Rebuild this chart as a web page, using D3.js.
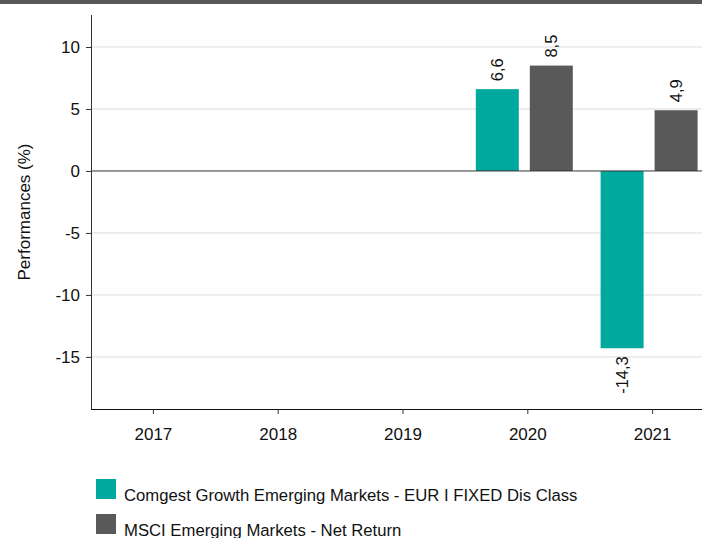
<!DOCTYPE html>
<html>
<head>
<meta charset="utf-8">
<script src="https://cdn.jsdelivr.net/npm/d3@7"></script>
<style>
  body { margin: 0; background: #fff; }
  text { font-family: "Liberation Sans", Arial, sans-serif; }
</style>
</head>
<body>
<div id="chart"></div>
<script>
// data
var years = ["2017", "2018", "2019", "2020", "2021"];
var fundValues = [null, null, null, 6.6, -14.3];
var indexValues = [null, null, null, 8.5, 4.9];
var seriesNames = ["Comgest Growth Emerging Markets - EUR I FIXED Dis Class", "MSCI Emerging Markets - Net Return"];
var yTicks = [-15, -10, -5, 0, 5, 10];

var width = 702, height = 538;
var colors = ["#00a99d", "#595959"];
var font = "Liberation Sans, Arial, sans-serif";

var svg = d3.select("#chart").append("svg")
    .attr("width", width)
    .attr("height", height);

// top band
svg.append("rect")
    .attr("x", 0).attr("y", 0)
    .attr("width", width).attr("height", 4)
    .attr("fill", "#585858");

var plot = {l: 91, t: 15, b: 409};

var x = d3.scaleBand().domain(years).range([plot.l, plot.l + 5 * 124.8]);
var y = d3.scaleLinear().domain([-19.2, 12.58]).range([plot.b, plot.t]);

// grid
svg.append("g")
    .selectAll("line")
    .data(yTicks.filter(function (d) { return d !== 0; }))
    .enter().append("line")
    .attr("x1", plot.l).attr("x2", width)
    .attr("y1", function (d) { return y(d); })
    .attr("y2", function (d) { return y(d); })
    .attr("stroke", "#dcdcdc")
    .attr("stroke-width", 1);

// bars
var series = [fundValues, indexValues];
var offsets = [-52, 2];
var barW = 43;

series.forEach(function (vals, i) {
    var pts = years.map(function (yr, j) { return {year: yr, value: vals[j]}; })
        .filter(function (d) { return d.value !== null; });

    svg.append("g")
        .selectAll("rect")
        .data(pts)
        .enter().append("rect")
        .attr("x", function (d) { return x(d.year) + x.bandwidth() / 2 + offsets[i]; })
        .attr("y", function (d) { return y(Math.max(0, d.value)); })
        .attr("width", barW)
        .attr("height", function (d) { return Math.abs(y(d.value) - y(0)); })
        .attr("fill", colors[i]);

    // value labels
    svg.append("g")
        .selectAll("text")
        .data(pts)
        .enter().append("text")
        .attr("transform", function (d) {
            var cx = x(d.year) + x.bandwidth() / 2 + offsets[i] + barW / 2;
            var cy = d.value >= 0 ? y(d.value) - 8 : y(d.value) + 8;
            return "translate(" + (cx + 6) + "," + cy + ") rotate(-90)";
        })
        .attr("text-anchor", function (d) { return d.value >= 0 ? "start" : "end"; })
        .attr("font-size", "16.5px")
        .attr("fill", "#111")
        .text(function (d) { return String(d.value).replace(".", ","); });
});

// zero line
svg.append("line")
    .attr("x1", plot.l).attr("x2", width)
    .attr("y1", y(0)).attr("y2", y(0))
    .attr("stroke", "#333").attr("stroke-width", 1);

// y axis
var yAxis = svg.append("g")
    .attr("transform", "translate(" + plot.l + ",0)")
    .call(d3.axisLeft(y).tickValues(yTicks).tickSize(5).tickPadding(6)
        .tickFormat(function (d) { return String(d); }));
yAxis.select(".domain").attr("stroke", "#333").attr("d", "M0.5," + plot.t + "V" + plot.b);
yAxis.selectAll(".tick line").attr("stroke", "#333");
yAxis.selectAll("text").attr("font-size", "17px").attr("fill", "#111")
    .attr("font-family", font);

// x axis
var xAxis = svg.append("g")
    .attr("transform", "translate(0," + plot.b + ")")
    .call(d3.axisBottom(x).tickSize(5).tickPadding(14));
xAxis.select(".domain").attr("stroke", "#111").attr("d", "M" + plot.l + ",0.5H" + width);
xAxis.selectAll(".tick line").attr("stroke", "#333");
xAxis.selectAll("text").attr("font-size", "17px").attr("fill", "#111")
    .attr("font-family", font);

// y title
svg.append("text")
    .attr("transform", "translate(30," + 212 + ") rotate(-90)")
    .attr("text-anchor", "middle")
    .attr("font-size", "17px")
    .attr("fill", "#111")
    .text("Performances (%)");

// legend
var legend = svg.append("g");
seriesNames.forEach(function (name, i) {
    legend.append("rect")
        .attr("x", 96).attr("y", 479 + i * 35)
        .attr("width", 20).attr("height", 20)
        .attr("fill", colors[i]);
    legend.append("text")
        .attr("x", 124).attr("y", 501 + i * 35)
        .attr("font-size", "16.7px")
        .attr("fill", "#111")
        .text(name);
});
</script>
</body>
</html>
